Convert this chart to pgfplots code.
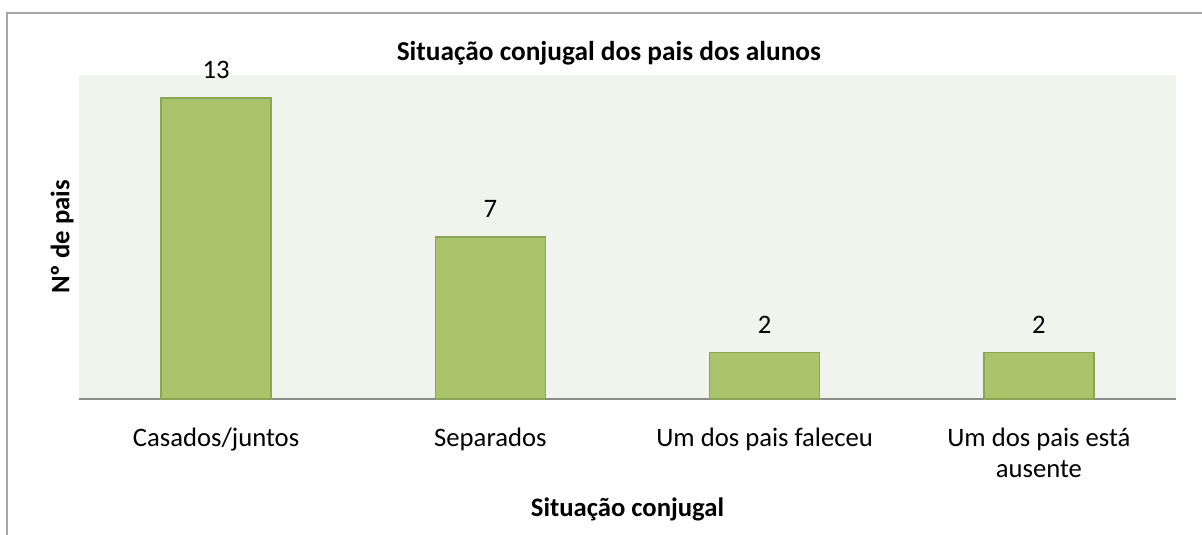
\documentclass[border=0pt]{standalone}
\usepackage{pgfplots}
\pgfplotsset{compat=1.18}
\usepackage{fontspec}
\setmainfont{Carlito}
\definecolor{bgcol}{HTML}{F1F3ED}
\definecolor{barfill}{HTML}{AAC46C}
\definecolor{baredge}{HTML}{8AA556}
\definecolor{axcol}{HTML}{8C8C8C}
\definecolor{bordcol}{HTML}{A6A6A6}
\begin{document}
\begin{tikzpicture}
\begin{axis}[
  scale only axis,
  width=822.75pt, height=243pt,
  xmin=-0.5, xmax=3.5, ymin=0, ymax=14,
  /pgf/number format/assume math mode=true,
  axis background/.style={fill=bgcol},
  separate axis lines,
  axis x line*=bottom,
  axis y line*=left,
  y axis line style={draw=none},
  ytick=\empty,
  x axis line style={draw=axcol, line width=1.2pt, -},
  xtick={0,1,2,3},
  xticklabels={Casados/juntos, Separados, Um dos pais faleceu, {Um dos pais está\\ausente}},
  xtick style={draw=none},
  xticklabel style={align=center, anchor=north, inner sep=0pt, yshift=-17pt, font=\fontsize{20}{23.5}\selectfont},
  ybar, bar width=82.5pt,
  nodes near coords,
  every node near coord/.append style={anchor=base, yshift=14.6pt, font=\fontsize{20}{24}\selectfont},
  title={\textbf{Situação conjugal dos pais dos alunos}},
  title style={at={(axis description cs:0.483,1)}, anchor=base, yshift=4.5pt, inner sep=0pt, font=\fontsize{20.5}{24}\selectfont},
  xlabel={\textbf{Situação conjugal}},
  xlabel style={at={(axis description cs:0.5,0)}, anchor=center, yshift=-82.5pt, font=\fontsize{20}{24}\selectfont},
  ylabel={\textbf{Nº de pais}},
  ylabel style={at={(axis description cs:0,0.5)}, anchor=center, yshift=12.75pt, font=\fontsize{20}{24}\selectfont},
  clip=false,
]
\addplot[fill=barfill, draw=baredge, line width=1pt] coordinates {(0,13) (1,7) (2,2) (3,2)};
\end{axis}
\draw[bordcol, line width=1.5pt] (-54pt,-120pt) -- (-54pt,289.5pt) -- (860pt,289.5pt);
\pgfresetboundingbox
\useasboundingbox (-59.25pt,-102pt) rectangle (842.25pt,299.25pt);
\end{tikzpicture}
\end{document}
